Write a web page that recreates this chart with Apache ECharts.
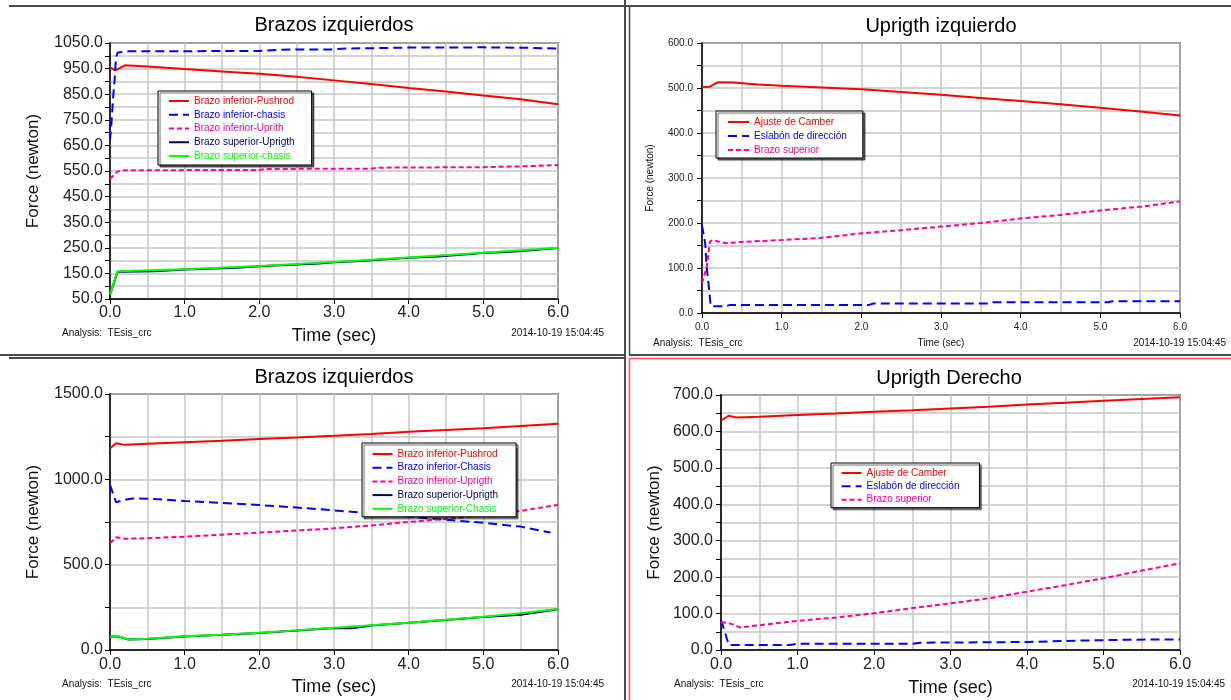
<!DOCTYPE html>
<html><head><meta charset="utf-8">
<script src="https://cdn.jsdelivr.net/npm/echarts@6/dist/echarts.min.js"></script>
<style>html,body{margin:0;padding:0;background:#fff;}#c{width:1231px;height:700px;}</style>
</head><body><div id="c"></div>
<script>
// ---------- Panel 1: Brazos izquierdos (top-left) ----------
const p1Title = 'Brazos izquierdos';
const p1Names = ['Brazo inferior-Pushrod', 'Brazo inferior-chasis', 'Brazo inferior-Uprith', 'Brazo superior-Uprigth', 'Brazo superior-chasis'];
const p1RedT = [0, 0.07, 0.2, 0.5, 1.0, 1.5, 2.0, 2.5, 3.0, 3.5, 4.0, 4.5, 5.0, 5.5, 6.0];
const p1RedV = [955, 943, 963, 958, 948, 939, 930, 918, 904, 890, 874, 861, 845, 830, 811];
const p1BlueT = [0, 0.02, 0.04, 0.06, 0.08, 0.1, 0.2, 1.0, 2.0, 2.3, 3.0, 3.1, 4.0, 5.0, 5.6, 6.0];
const p1BlueV = [670, 740, 830, 900, 990, 1012, 1018, 1018, 1019, 1024, 1025, 1028, 1032, 1033, 1031, 1028];
const p1PinkT = [0, 0.1, 0.2, 2.0, 2.1, 3.5, 3.6, 5.0, 5.5, 6.0];
const p1PinkV = [519, 548, 553, 554, 558, 559, 563, 565, 568, 573];
const p1NavyT = [0, 0.1, 0.6, 1.0, 1.7, 2.0, 2.8, 3.0, 3.3, 4.0, 4.4, 5.0, 5.5, 6.0];
const p1NavyV = [66, 156, 158, 165, 172, 178, 189, 194, 197, 211, 216, 230, 237, 249];
const p1GreenT = [0, 0.1, 1.0, 2.0, 3.0, 4.0, 5.0, 6.0];
const p1GreenV = [68, 158, 166, 179, 195, 212, 231, 250];
const p1YTicks = { min: 50, max: 1050, step: 50, labelBase: 50, labelStep: 100 };

// ---------- Panel 2: Uprigth izquierdo (top-right) ----------
const p2Title = 'Uprigth izquierdo';
const p2Names = ['Ajuste de Camber', 'Eslabón de dirección', 'Brazo superior'];
const p2RedT = [0, 0.1, 0.2, 0.4, 0.7, 1.0, 1.5, 2.0, 2.5, 3.0, 3.5, 4.0, 4.5, 5.0, 5.5, 6.0];
const p2RedV = [502, 503, 513, 512, 508, 505, 501, 497, 491, 485, 478, 471, 464, 456, 448, 439];
const p2BlueT = [0, 0.04, 0.06, 0.09, 0.11, 0.3, 0.35, 2.1, 2.15, 3.6, 3.65, 5.1, 5.15, 6.0];
const p2BlueV = [195, 155, 100, 51, 15, 15, 18, 18, 21, 21, 24, 24, 26, 26];
const p2PinkT = [0, 0.06, 0.1, 0.13, 0.3, 0.5, 1.0, 1.5, 2.0, 2.5, 3.0, 3.5, 4.0, 4.5, 5.0, 5.5, 6.0];
const p2PinkV = [66, 103, 158, 162, 155, 158, 162, 167, 177, 184, 192, 200, 210, 218, 228, 236, 248];
const p2YTicks = { min: 0, max: 600, step: 50, labelBase: 0, labelStep: 100 };

// ---------- Panel 3: Brazos izquierdos (bottom-left) ----------
const p3Title = 'Brazos izquierdos';
const p3Names = ['Brazo inferior-Pushrod', 'Brazo inferior-Chasis', 'Brazo inferior-Uprigth', 'Brazo superior-Uprigth', 'Brazo superior-Chasis'];
const p3RedT = [0, 0.08, 0.2, 0.5, 1.0, 1.5, 2.0, 2.5, 3.0, 3.5, 4.0, 4.5, 5.0, 5.5, 6.0];
const p3RedV = [1180, 1212, 1202, 1208, 1218, 1226, 1236, 1245, 1255, 1266, 1279, 1289, 1300, 1313, 1326];
const p3BlueT = [0, 0.08, 0.2, 0.3, 0.6, 1.0, 1.5, 2.0, 2.5, 3.0, 3.5, 4.0, 4.5, 5.0, 5.5, 5.9];
const p3BlueV = [968, 866, 880, 888, 885, 873, 862, 849, 835, 818, 801, 782, 763, 745, 723, 688];
const p3PinkT = [0, 0.08, 0.2, 0.5, 1.0, 1.5, 2.0, 2.5, 3.0, 3.5, 4.0, 4.5, 5.0, 5.5, 6.0];
const p3PinkV = [625, 660, 652, 655, 664, 676, 688, 700, 713, 730, 750, 768, 790, 815, 850];
const p3NavyT = [0, 0.1, 0.25, 0.5, 1.0, 1.5, 2.0, 2.5, 3.0, 3.25, 3.5, 4.0, 4.5, 5.0, 5.5, 6.0];
const p3NavyV = [77, 81, 61, 65, 79, 89, 100, 114, 129, 128, 144, 159, 176, 194, 207, 239];
const p3GreenT = [0, 0.1, 0.25, 0.5, 1.0, 1.5, 2.0, 2.5, 3.0, 3.5, 4.0, 4.5, 5.0, 5.5, 6.0];
const p3GreenV = [78, 82, 62, 66, 80, 90, 101, 115, 130, 145, 160, 177, 195, 215, 240];
const p3YTicks = { min: 0, max: 1500, step: 250, labelBase: 0, labelStep: 500 };

// ---------- Panel 4: Uprigth Derecho (bottom-right) ----------
const p4Title = 'Uprigth Derecho';
const p4Names = ['Ajuste de Camber', 'Eslabón de dirección', 'Brazo superior'];
const p4RedT = [0, 0.1, 0.2, 0.5, 1.0, 1.5, 2.0, 2.5, 3.0, 3.5, 4.0, 4.5, 5.0, 5.5, 6.0];
const p4RedV = [630, 643, 638, 640, 645, 649, 654, 658, 663, 668, 674, 679, 684, 689, 694];
const p4BlueT = [0, 0.05, 0.1, 0.9, 1.0, 2.5, 2.6, 4.0, 4.7, 5.6, 6.0];
const p4BlueV = [82, 50, 14, 14, 17, 17, 20, 22, 26, 29, 29];
const p4PinkT = [0, 0.1, 0.25, 0.5, 1.0, 1.5, 2.0, 2.5, 3.0, 3.5, 4.0, 4.5, 5.0, 5.5, 6.0];
const p4PinkV = [76, 74, 62, 68, 80, 89, 101, 115, 128, 142, 160, 178, 197, 218, 238];
const p4YTicks = { min: 0, max: 700, step: 50, labelBase: 0, labelStep: 100 };

// ---------- shared texts ----------
const xAxisName = 'Time (sec)';
const yAxisName = 'Force (newton)';
const analysisText = 'Analysis:  TEsis_crc';
const dateText = '2014-10-19 15:04:45';
const xTicks = { min: 0, max: 6, step: 1 };

// ---------- styles ----------
const FONT = "'Liberation Sans', Arial, sans-serif";
const RED = '#ff0000', BLUE = '#0000ff', PINK = '#ff0099', NAVY = '#000066', GREEN = '#00ff00';
const GRIDC = '#c6c6c6';
const styleRed = { color: RED, type: 'solid' };
const styleBlue = { color: BLUE, type: [9, 5] };
const stylePink = { color: PINK, type: [5, 3] };
const styleNavy = { color: NAVY, type: 'solid' };
const styleGreen = { color: GREEN, type: 'solid' };

function pairs(t, v) { return t.map((x, i) => [x, v[i]]); }

const panels = [
  { grid: { left: 110, top: 43, width: 448, height: 256 }, yt: p1YTicks, big: true,
    yLabelMargin: 7, yNameGap: 68, xLabelMargin: 6, xNameGap: 28,
    series: [[p1Names[0], p1RedT, p1RedV, styleRed], [p1Names[1], p1BlueT, p1BlueV, styleBlue],
             [p1Names[2], p1PinkT, p1PinkV, stylePink], [p1Names[3], p1NavyT, p1NavyV, styleNavy],
             [p1Names[4], p1GreenT, p1GreenV, styleGreen]],
    legend: { left: 158, top: 91, padding: [4, 17, 3, 10], itemWidth: 20, itemGap: 1.75 } },
  { grid: { left: 702, top: 43, width: 478, height: 270 }, yt: p2YTicks, big: false,
    yLabelMargin: 9, yNameGap: 47, xLabelMargin: 9, xNameGap: 25,
    series: [[p2Names[0], p2RedT, p2RedV, styleRed], [p2Names[1], p2BlueT, p2BlueV, styleBlue],
             [p2Names[2], p2PinkT, p2PinkV, stylePink]],
    legend: { left: 716, top: 111, padding: [5, 16, 2, 11], itemWidth: 21, itemGap: 2 } },
  { grid: { left: 110, top: 394, width: 448, height: 256 }, yt: p3YTicks, big: true,
    yLabelMargin: 7, yNameGap: 68, xLabelMargin: 7, xNameGap: 28,
    series: [[p3Names[0], p3RedT, p3RedV, styleRed], [p3Names[1], p3BlueT, p3BlueV, styleBlue],
             [p3Names[2], p3PinkT, p3PinkV, stylePink], [p3Names[3], p3NavyT, p3NavyV, styleNavy],
             [p3Names[4], p3GreenT, p3GreenV, styleGreen]],
    legend: { left: 362, top: 443, padding: [5, 18, 2, 9.5], itemWidth: 20, itemGap: 1.7 } },
  { grid: { left: 721, top: 395, width: 459, height: 255 }, yt: p4YTicks, big: true,
    yLabelMargin: 8, yNameGap: 58, xLabelMargin: 7, xNameGap: 29,
    series: [[p4Names[0], p4RedT, p4RedV, styleRed], [p4Names[1], p4BlueT, p4BlueV, styleBlue],
             [p4Names[2], p4PinkT, p4PinkV, stylePink]],
    legend: { left: 831, top: 463, padding: [4, 20, 2, 9.6], itemWidth: 20, itemGap: 1.35 } }
];

const grids = [], xAxes = [], yAxes = [], series = [], legends = [];
panels.forEach((p, i) => {
  const labelSize = p.big ? 16 : 10;
  const nameSize = p.big ? 17 : 10;
  const xNameSize = p.big ? 18 : 10;
  grids.push(Object.assign({ show: true, borderColor: '#000', borderWidth: 1.5, backgroundColor: '#fff', containLabel: false }, p.grid));
  xAxes.push({
    type: 'value', gridIndex: i, min: xTicks.min, max: xTicks.max, interval: xTicks.step,
    name: xAxisName, nameLocation: 'middle', nameGap: p.xNameGap,
    nameTextStyle: { fontSize: xNameSize, color: '#111', fontFamily: FONT },
    axisLine: { show: true, onZero: false, lineStyle: { color: '#000', width: 1.5 } },
    axisTick: { show: true, length: 5, lineStyle: { color: '#000' } },
    axisLabel: { margin: p.xLabelMargin, fontSize: labelSize, color: '#222', fontFamily: FONT, formatter: v => v.toFixed(1) },
    splitLine: { show: true, lineStyle: { color: GRIDC, width: 1.5 } },
    minorTick: { show: false, splitNumber: 2 },
    minorSplitLine: { show: true, lineStyle: { color: GRIDC, width: 1.5 } }
  });
  const yt = p.yt;
  yAxes.push({
    type: 'value', gridIndex: i, min: yt.min, max: yt.max, interval: yt.step,
    name: yAxisName, nameLocation: 'middle', nameGap: p.yNameGap,
    nameTextStyle: { fontSize: nameSize, color: '#111', fontFamily: FONT },
    axisLine: { show: true, onZero: false, lineStyle: { color: '#000', width: 1.5 } },
    axisTick: { show: true, length: 5, lineStyle: { color: '#000' } },
    axisLabel: { margin: p.yLabelMargin, fontSize: labelSize, color: '#222', fontFamily: FONT,
      formatter: v => { const k = (v - yt.labelBase) / yt.labelStep; return Math.abs(k - Math.round(k)) < 1e-6 ? v.toFixed(1) : ''; } },
    splitLine: { show: true, lineStyle: { color: GRIDC, width: 1.5 } }
  });
  const legendData = [];
  p.series.forEach(([name, t, v, st]) => {
    series.push({
      type: 'line', name, xAxisIndex: i, yAxisIndex: i, data: pairs(t, v),
      symbol: 'none', showSymbol: false, animation: false, silent: true,
      lineStyle: { color: st.color, width: 2, type: st.type }, itemStyle: { color: st.color }
    });
    legendData.push({ name, textStyle: { color: st.color } });
  });
  legends.push(Object.assign({
    orient: 'vertical', data: legendData, itemHeight: 12, selectedMode: false,
    itemStyle: { opacity: 0, borderWidth: 0 },
    lineStyle: { width: 2 },
    borderColor: '#000', borderWidth: 1, backgroundColor: '#fff', borderRadius: 0,
    shadowColor: 'rgba(0,0,0,0.6)', shadowBlur: 1, shadowOffsetX: 2, shadowOffsetY: 2,
    textStyle: { fontSize: 10, fontFamily: FONT, lineHeight: 12, padding: 0 }
  }, p.legend));
});

function txt(text, x, y, size, align, color) {
  return { type: 'text', x, y, silent: true,
    style: { text, fontSize: size, fontFamily: FONT, fill: color || '#111',
      align, verticalAlign: 'middle', textAlign: align, textVerticalAlign: 'middle' } };
}
function ln(x1, y1, x2, y2, color, w) {
  return { type: 'line', silent: true, shape: { x1, y1, x2, y2 }, style: { stroke: color, lineWidth: w } };
}
const DARK = '#4a4a4a', FRAME_RED = '#ff5050';
const graphics = [
  ln(9, 6, 1231, 6, DARK, 2),
  ln(625, 0, 625, 700, DARK, 2),
  ln(629.5, 6, 629.5, 355, DARK, 1.5),
  ln(0, 355, 625, 355, DARK, 2),
  ln(629, 355, 1231, 355, DARK, 2),
  ln(9, 358, 625, 358, DARK, 2),
  ln(629.5, 358.5, 1231, 358.5, FRAME_RED, 1.5),
  ln(629.5, 358.5, 629.5, 700, FRAME_RED, 1.5),
  txt(p1Title, 334, 25, 20, 'center', '#000'),
  txt(p2Title, 941, 26, 20, 'center', '#000'),
  txt(p3Title, 334, 377, 20, 'center', '#000'),
  txt(p4Title, 949, 378, 20, 'center', '#000'),
  txt(analysisText, 62, 333, 10, 'left'),
  txt(dateText, 604, 333, 10, 'right'),
  txt(analysisText, 653, 343, 10, 'left'),
  txt(dateText, 1226, 343, 10, 'right'),
  txt(analysisText, 62, 684, 10, 'left'),
  txt(dateText, 604, 684, 10, 'right'),
  txt(analysisText, 674, 684, 10, 'left'),
  txt(dateText, 1225, 684, 10, 'right')
];

const chart = echarts.init(document.getElementById('c'), null, { renderer: 'canvas' });
chart.setOption({
  backgroundColor: '#fff',
  animation: false,
  textStyle: { fontFamily: FONT },
  grid: grids, xAxis: xAxes, yAxis: yAxes, series, legend: legends,
  graphic: { elements: graphics }
});
</script>
</body></html>
